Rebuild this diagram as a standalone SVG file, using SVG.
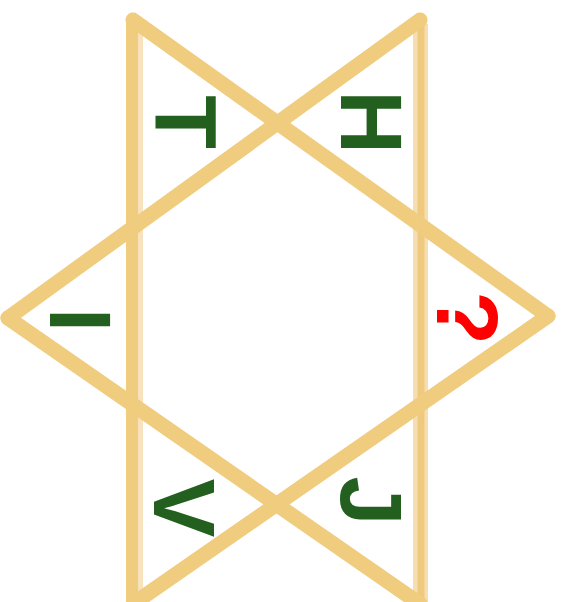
<svg xmlns="http://www.w3.org/2000/svg" width="564" height="602" viewBox="0 0 564 602">
<style>
.s{stroke:#F0CC7F;stroke-width:15;stroke-linecap:round;fill:none}
.lt{stroke:#F8E2BE;fill:none}
.g{fill:#235F1E;font-family:"Liberation Sans",Arial,sans-serif;font-weight:bold;font-size:88px;text-anchor:middle}
.r{fill:#FF0000}
</style>
<rect width="564" height="602" fill="#FFFFFF"/>
<g id="lines">
<line class="lt" x1="140.5" y1="30" x2="140.5" y2="594" stroke-width="5"/>
<line class="lt" x1="420.5" y1="24" x2="420.5" y2="602" stroke-width="15" style="stroke:#F6DDB2"/>
<line class="s" x1="132" y1="20" x2="132" y2="604" style="stroke-width:12"/>
<line class="s" x1="421" y1="20" x2="421" y2="604" style="stroke-width:7;stroke:#EEC97E"/>
<line class="s" x1="133" y1="20" x2="548" y2="316"/>
<line class="s" x1="548" y1="316" x2="133" y2="604"/>
<line class="s" x1="420" y1="20" x2="8" y2="318"/>
<line class="s" x1="8" y1="318" x2="420" y2="604"/>
</g>
<g id="T"><text class="g" transform="translate(187,122) rotate(90)" y="31.5">T</text></g>
<g id="H"><text class="g" transform="translate(372,122) rotate(90)" y="31.5">H</text></g>
<g id="I"><text class="g" transform="translate(81,320) rotate(90)" y="31.5">I</text></g>
<g id="Q"><text class="g r" transform="translate(468,318) rotate(90)" y="31.5">?</text></g>
<g id="V"><text class="g" transform="translate(185,508) rotate(90)" y="31.5">V</text></g>
<g id="J"><text class="g" transform="translate(372,501) rotate(90)" y="31.5">J</text></g>
</svg>
